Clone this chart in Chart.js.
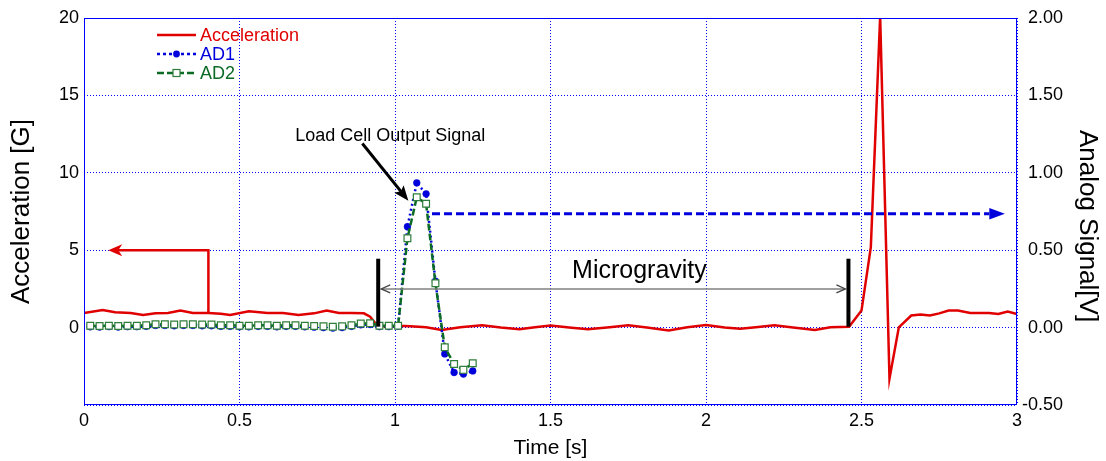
<!DOCTYPE html>
<html>
<head>
<meta charset="utf-8">
<script src="https://cdn.jsdelivr.net/npm/chart.js@4.4.1/dist/chart.umd.min.js"></script>
<style>
  html, body { margin: 0; padding: 0; background: #fff; }
  #wrap { width: 1106px; height: 461px; }
</style>
</head>
<body>
<div id="wrap"><canvas id="grafico" width="1106" height="461"></canvas></div>
<script>
// Datos
const tiempoAcel = [0, 0.06, 0.10, 0.15, 0.19, 0.23, 0.27, 0.31, 0.35, 0.40, 0.44, 0.47, 0.53, 0.59, 0.64,
  0.69, 0.74, 0.78, 0.82, 0.86, 0.90, 0.92, 0.94, 0.97, 1.01, 1.05, 1.10, 1.15, 1.21, 1.28,
  1.34, 1.40, 1.45, 1.50, 1.56, 1.62, 1.69, 1.75, 1.81, 1.88, 1.94, 2.00, 2.06, 2.11, 2.16,
  2.22, 2.28, 2.35, 2.40, 2.46, 2.50, 2.53, 2.56, 2.59, 2.62, 2.66, 2.69, 2.72, 2.75, 2.78,
  2.81, 2.85, 2.88, 2.91, 2.94, 2.97, 3.00];
const aceleracion = [0.95, 1.14, 0.99, 0.95, 0.82, 0.92, 0.95, 1.10, 0.95, 0.95, 0.90, 0.82, 1.05, 0.95, 0.95,
  0.82, 0.92, 1.10, 0.95, 0.95, 0.92, 0.70, 0.20, 0.05, 0.12, 0.08, 0.02, -0.15, 0.02, 0.15,
  0.0, -0.11, 0.02, 0.13, 0.0, -0.11, 0.02, 0.15, 0.0, -0.19, 0.02, 0.17, 0.0, -0.08, 0.02,
  0.15, 0.0, -0.15, 0.02, 0.06, 1.1, 5.2, 20.1, -3.3, 0.02, 0.78, 0.84, 0.78, 0.92, 1.1,
  1.1, 0.95, 0.95, 0.95, 0.88, 1.03, 0.88];

const tiempoAD = [0.02, 0.05, 0.08, 0.11, 0.14, 0.17, 0.20, 0.23, 0.26, 0.29, 0.32, 0.35, 0.38, 0.41,
  0.44, 0.47, 0.50, 0.53, 0.56, 0.59, 0.62, 0.65, 0.68, 0.71, 0.74, 0.77, 0.80, 0.83,
  0.86, 0.89, 0.92, 0.95, 0.98, 1.01, 1.04, 1.07, 1.10, 1.13, 1.16, 1.19, 1.22, 1.25];
const ad1 = [0.005, 0.004, 0.006, 0.004, 0.006, 0.006, 0.008, 0.014, 0.014, 0.012, 0.014, 0.014, 0.012, 0.012,
  0.008, 0.008, 0.005, 0.005, 0.008, 0.008, 0.005, 0.008, 0.008, 0.005, 0.003, 0.0, -0.003, 0.0,
  0.008, 0.018, 0.02, 0.006, 0.006, 0.008, 0.652, 0.935, 0.864, 0.30, -0.17, -0.29, -0.30, -0.28];
const ad2 = [0.012, 0.010, 0.012, 0.010, 0.012, 0.012, 0.015, 0.022, 0.022, 0.020, 0.022, 0.022, 0.020, 0.020,
  0.015, 0.015, 0.012, 0.012, 0.015, 0.015, 0.012, 0.015, 0.015, 0.012, 0.010, 0.008, 0.005, 0.008,
  0.015, 0.026, 0.028, 0.012, 0.012, 0.012, 0.577, 0.842, 0.80, 0.286, -0.127, -0.235, -0.273, -0.23];

const ticksTiempo = [0, 0.5, 1, 1.5, 2, 2.5, 3];
const ticksAcel = [-5, 0, 5, 10, 15, 20];
const ticksSenal = [-0.5, 0, 0.5, 1, 1.5, 2];

const fuente = '"Liberation Sans", Arial, sans-serif';
const rojo = '#e00000';
const azul = '#0000dd';
const verde = '#0b6b25';

const puntos = (xs, ys) => xs.map((t, i) => ({ x: t, y: ys[i] }));

// Punta de flecha con muesca
function punta(ctx, xt, yt, ang, largo, medio, muesca) {
  ctx.save();
  ctx.translate(xt, yt);
  ctx.rotate(ang);
  ctx.beginPath();
  ctx.moveTo(0, 0);
  ctx.lineTo(-largo, -medio);
  ctx.lineTo(-largo + muesca, 0);
  ctx.lineTo(-largo, medio);
  ctx.closePath();
  ctx.fill();
  ctx.restore();
}

// Anotaciones, caja, eje derecho y leyenda
const anotaciones = {
  id: 'anotaciones',
  afterDatasetsDraw(chart) {
    const { ctx, chartArea: ca, scales: { x, y, y1 } } = chart;
    const px = t => x.getPixelForValue(t);
    const pg = g => y.getPixelForValue(g);
    const pv = v => y1.getPixelForValue(v);
    ctx.save();

    // caja
    ctx.strokeStyle = '#0000ff';
    ctx.lineWidth = 1;
    ctx.setLineDash([]);
    ctx.strokeRect(ca.left + 0.5, ca.top + 0.5, ca.right - ca.left - 1, ca.bottom - ca.top - 1);

    // etiquetas del eje derecho (alineadas a la derecha)
    ctx.fillStyle = '#000';
    ctx.font = '18px ' + fuente;
    ctx.textAlign = 'right';
    ctx.textBaseline = 'middle';
    ticksSenal.forEach(v => ctx.fillText(v.toFixed(2), ca.right + 46, pv(v)));

    // titulo del eje derecho
    ctx.save();
    ctx.translate(1087, 226);
    ctx.rotate(Math.PI / 2);
    ctx.textAlign = 'center';
    ctx.font = '26px ' + fuente;
    ctx.fillText('Analog Signal[V]', 0, 0);
    ctx.restore();

    // flecha roja
    ctx.strokeStyle = rojo;
    ctx.fillStyle = rojo;
    ctx.lineWidth = 2.5;
    ctx.beginPath();
    ctx.moveTo(px(0.40), pg(1.0));
    ctx.lineTo(px(0.40), pg(5.0));
    ctx.lineTo(px(0.078) + 8, pg(5.0));
    ctx.stroke();
    punta(ctx, px(0.078), pg(5.0), Math.PI, 14, 6, 4);

    // flecha azul discontinua
    ctx.strokeStyle = azul;
    ctx.fillStyle = azul;
    ctx.lineWidth = 3;
    ctx.setLineDash([8, 4]);
    ctx.beginPath();
    ctx.moveTo(px(1.119), pv(0.735));
    ctx.lineTo(px(2.911), pv(0.735));
    ctx.stroke();
    ctx.setLineDash([]);
    punta(ctx, px(2.961), pv(0.735), 0, px(2.961) - px(2.911), 5.7, 0);

    // barras negras
    ctx.strokeStyle = '#000';
    ctx.lineWidth = 4;
    [0.946, 2.458].forEach(t => {
      ctx.beginPath();
      ctx.moveTo(px(t), pg(0.06));
      ctx.lineTo(px(t), pg(4.45));
      ctx.stroke();
    });

    // flecha doble gris
    ctx.strokeStyle = '#808080';
    ctx.lineWidth = 1.5;
    ctx.beginPath();
    ctx.moveTo(px(0.946) + 3, pg(2.5));
    ctx.lineTo(px(2.458) - 3, pg(2.5));
    ctx.stroke();
    ctx.strokeStyle = '#444';
    ctx.lineWidth = 1.3;
    [[px(0.946) + 3, 1], [px(2.458) - 3, -1]].forEach(([xt, s]) => {
      ctx.beginPath();
      ctx.moveTo(xt + s * 9, pg(2.5) - 4);
      ctx.lineTo(xt, pg(2.5));
      ctx.lineTo(xt + s * 9, pg(2.5) + 4);
      ctx.stroke();
    });

    // textos
    ctx.fillStyle = '#000';
    ctx.font = '25px ' + fuente;
    ctx.textAlign = 'center';
    ctx.textBaseline = 'middle';
    ctx.fillText('Microgravity', px(1.786), pg(3.68));
    ctx.font = '18px ' + fuente;
    ctx.textAlign = 'left';
    ctx.fillText('Load Cell Output Signal', px(0.679), pg(12.4));

    // flecha negra
    const x0 = px(0.895), y0 = pg(11.89), x1 = px(1.043), y1p = pg(8.2);
    const ang = Math.atan2(y1p - y0, x1 - x0);
    ctx.strokeStyle = '#000';
    ctx.fillStyle = '#000';
    ctx.lineWidth = 3;
    ctx.beginPath();
    ctx.moveTo(x0, y0);
    ctx.lineTo(x1 - 10 * Math.cos(ang), y1p - 10 * Math.sin(ang));
    ctx.stroke();
    punta(ctx, x1, y1p, ang, 15, 6, 3);

    // leyenda
    const filas = [
      { txt: 'Acceleration', col: rojo, dash: [], y: 35 },
      { txt: 'AD1', col: azul, dash: [3, 3], y: 54, marca: 'c' },
      { txt: 'AD2', col: verde, dash: [7, 3], y: 73, marca: 's' }
    ];
    ctx.font = '18px ' + fuente;
    ctx.textBaseline = 'middle';
    filas.forEach(f => {
      ctx.strokeStyle = f.col;
      ctx.lineWidth = 2.5;
      ctx.setLineDash(f.dash);
      ctx.beginPath();
      ctx.moveTo(157, f.y);
      ctx.lineTo(196, f.y);
      ctx.stroke();
      ctx.setLineDash([]);
      if (f.marca === 'c') {
        ctx.fillStyle = f.col;
        ctx.beginPath();
        ctx.arc(176.5, f.y, 3.4, 0, Math.PI * 2);
        ctx.fill();
      } else if (f.marca === 's') {
        ctx.fillStyle = '#fff';
        ctx.strokeStyle = '#2f7d3a';
        ctx.lineWidth = 1.2;
        ctx.fillRect(173, f.y - 3.5, 7, 7);
        ctx.strokeRect(173, f.y - 3.5, 7, 7);
      }
      ctx.fillStyle = f.col;
      ctx.fillText(f.txt, 200, f.y + 1);
    });
    ctx.restore();
  }
};

const fijarTicks = arr => scale => { scale.ticks = arr.map(v => ({ value: v })); };

new Chart(document.getElementById('grafico').getContext('2d'), {
  type: 'line',
  data: {
    datasets: [
      {
        label: 'Acceleration', data: puntos(tiempoAcel, aceleracion), yAxisID: 'y',
        borderColor: rojo, borderWidth: 2.5, pointRadius: 0, tension: 0, order: 2
      },
      {
        label: 'AD1', data: puntos(tiempoAD, ad1), yAxisID: 'y1',
        borderColor: azul, borderWidth: 2.5, borderDash: [2, 3],
        pointRadius: 3.4, pointBackgroundColor: azul, pointBorderColor: azul, pointBorderWidth: 0.5, order: 1
      },
      {
        label: 'AD2', data: puntos(tiempoAD, ad2), yAxisID: 'y1',
        borderColor: verde, borderWidth: 2.5, borderDash: [7, 3],
        pointStyle: 'rect', pointRadius: 4.8, pointBackgroundColor: '#fff',
        pointBorderColor: '#2f7d3a', pointBorderWidth: 1.2, order: 0
      }
    ]
  },
  options: {
    responsive: false,
    animation: false,
    devicePixelRatio: 1,
    events: [],
    layout: { padding: { top: 18, left: 0, right: 0, bottom: 0 } },
    plugins: { legend: { display: false }, tooltip: { enabled: false } },
    scales: {
      x: {
        type: 'linear', min: 0, max: 3,
        afterBuildTicks: fijarTicks(ticksTiempo),
        afterFit: s => { s.height = 56; },
        grid: { color: '#0000ff', lineWidth: 1, drawTicks: false },
        border: { display: false, dash: [1, 2] },
        ticks: { color: '#000', font: { family: fuente, size: 18 }, padding: 5, autoSkip: false, maxRotation: 0,
          callback: v => String(v) },
        title: { display: true, text: 'Time [s]', color: '#000', font: { family: fuente, size: 21 }, padding: { top: 0, bottom: 0 } }
      },
      y: {
        type: 'linear', position: 'left', min: -5, max: 20,
        afterBuildTicks: fijarTicks(ticksAcel),
        afterFit: s => { s.width = 84; },
        grid: { color: '#0000ff', lineWidth: 1, drawTicks: false },
        border: { display: false, dash: [1, 2] },
        ticks: { color: '#000', font: { family: fuente, size: 18 }, padding: 5,
          callback: v => (v === -5 ? '' : String(v)) },
        title: { display: true, text: 'Acceleration [G]', color: '#000', font: { family: fuente, size: 26 }, padding: { top: 6, bottom: 0 } }
      },
      y1: {
        type: 'linear', position: 'right', min: -0.5, max: 2.0,
        afterBuildTicks: fijarTicks(ticksSenal),
        afterFit: s => { s.width = 89; },
        grid: { display: false, drawTicks: false },
        border: { display: false },
        ticks: { display: false },
        title: { display: false }
      }
    }
  },
  plugins: [anotaciones]
});
</script>
</body>
</html>
